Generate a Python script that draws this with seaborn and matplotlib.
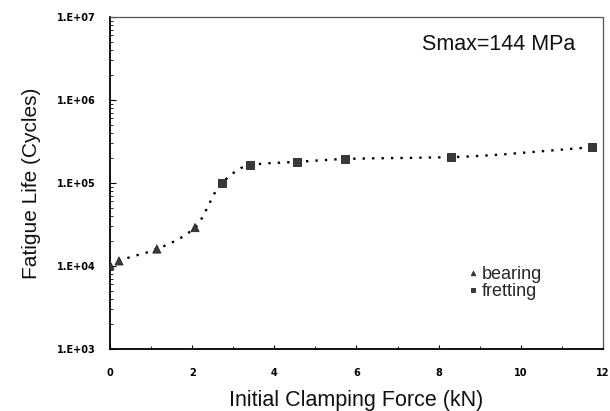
import numpy as np
import pandas as pd
import matplotlib
matplotlib.use("Agg")
import matplotlib.pyplot as plt
import seaborn as sns
from matplotlib.ticker import FixedLocator, LogLocator, NullFormatter, MultipleLocator

# ---- data ----
bearing_force = [0.0, 0.22, 1.14, 2.07]
bearing_life = [1.02e4, 1.15e4, 1.6e4, 2.9e4]
fretting_force = [2.72, 3.41, 4.55, 5.72, 8.3, 11.73]
fretting_life = [1.0e5, 1.65e5, 1.8e5, 1.95e5, 2.05e5, 2.7e5]
y_tick_values = [1e3, 1e4, 1e5, 1e6, 1e7]
y_tick_labels = ["1.E+03", "1.E+04", "1.E+05", "1.E+06", "1.E+07"]
x_tick_values = [0, 2, 4, 6, 8, 10, 12]
annotation = "Smax=144 MPa"

df = pd.DataFrame({
    "force": bearing_force + fretting_force,
    "life": bearing_life + fretting_life,
    "mode": ["bearing"] * len(bearing_force) + ["fretting"] * len(fretting_force),
})

sns.set_theme(style="white")
plt.rcParams["font.family"] = ["Liberation Sans", "DejaVu Sans"]

fig = plt.figure(figsize=(6.1, 4.11), dpi=100)
ax = fig.add_axes([0.1803, 0.1509, 0.8082, 0.8077])


def pchip(x, y, xs):
    x = np.asarray(x, float); y = np.asarray(y, float)
    h = np.diff(x); d = np.diff(y) / h
    n = len(x); m = np.zeros(n)
    for k in range(1, n - 1):
        if d[k - 1] * d[k] > 0:
            w1 = 2 * h[k] + h[k - 1]; w2 = h[k] + 2 * h[k - 1]
            m[k] = (w1 + w2) / (w1 / d[k - 1] + w2 / d[k])
    m[0] = d[0]; m[-1] = d[-1]
    idx = np.clip(np.searchsorted(x, xs) - 1, 0, n - 2)
    t = (xs - x[idx]) / h[idx]
    h00 = 2 * t**3 - 3 * t**2 + 1; h10 = t**3 - 2 * t**2 + t
    h01 = -2 * t**3 + 3 * t**2; h11 = t**3 - t**2
    return h00 * y[idx] + h10 * h[idx] * m[idx] + h01 * y[idx + 1] + h11 * h[idx] * m[idx + 1]


xs = np.linspace(df["force"].min(), df["force"].max(), 400)
ys = 10 ** pchip(df["force"], np.log10(df["life"]), xs)
ax.plot(xs, ys, color="black", linestyle=(0, (1, 3.0)), linewidth=1.7, zorder=2)

sns.scatterplot(data=df, x="force", y="life", style="mode",
                markers={"bearing": "^", "fretting": "s"},
                color="#3a3a3a", edgecolor="#222222", linewidth=0.6,
                s=34, ax=ax, zorder=3, legend=True)

ax.set_yscale("log")
ax.set_xlim(0, 12)
ax.set_ylim(1e3, 1e7)
ax.yaxis.set_major_locator(FixedLocator(y_tick_values))
ax.set_yticklabels(y_tick_labels)
ax.yaxis.set_minor_locator(LogLocator(base=10, subs=np.arange(2, 10)))
ax.yaxis.set_minor_formatter(NullFormatter())
ax.xaxis.set_major_locator(FixedLocator(x_tick_values))
ax.set_xticklabels([str(v) for v in x_tick_values])
ax.xaxis.set_minor_locator(MultipleLocator(1))

for lab in ax.get_xticklabels() + ax.get_yticklabels():
    lab.set_fontfamily("DejaVu Sans")
    lab.set_fontweight("bold")
    lab.set_fontsize(7)
    lab.set_color("black")

ax.tick_params(axis="both", which="both", direction="in", colors="black",
               left=True, bottom=True, top=False, right=False)
ax.tick_params(axis="y", which="major", length=4, width=0.8, pad=10)
ax.tick_params(axis="y", which="minor", length=2, width=0.6)
ax.tick_params(axis="x", which="major", length=3, width=0.8, pad=14)
ax.tick_params(axis="x", which="minor", length=2, width=0.6)

for side in ["left", "bottom"]:
    ax.spines[side].set_color("black")
    ax.spines[side].set_linewidth(1.3)
for side in ["top", "right"]:
    ax.spines[side].set_color("#555555")
    ax.spines[side].set_linewidth(0.9)
    ax.spines[side].set_linestyle((0, (1, 1)))

ax.set_xlabel("Initial Clamping Force (kN)", fontsize=15.5, labelpad=8, color="#111111")
ax.set_ylabel("Fatigue Life (Cycles)", fontsize=15, labelpad=12, color="#111111")

ax.text(0.943, 0.916, annotation, transform=ax.transAxes, ha="right", va="center",
        fontsize=15.5, color="#111111")

leg = ax.legend(loc="lower left", bbox_to_anchor=(0.70, 0.12), frameon=False,
                fontsize=13, handletextpad=0.0, labelspacing=0.0,
                markerscale=0.55, borderpad=0, handlelength=1.0)

fig.savefig("out.png", dpi=100)
